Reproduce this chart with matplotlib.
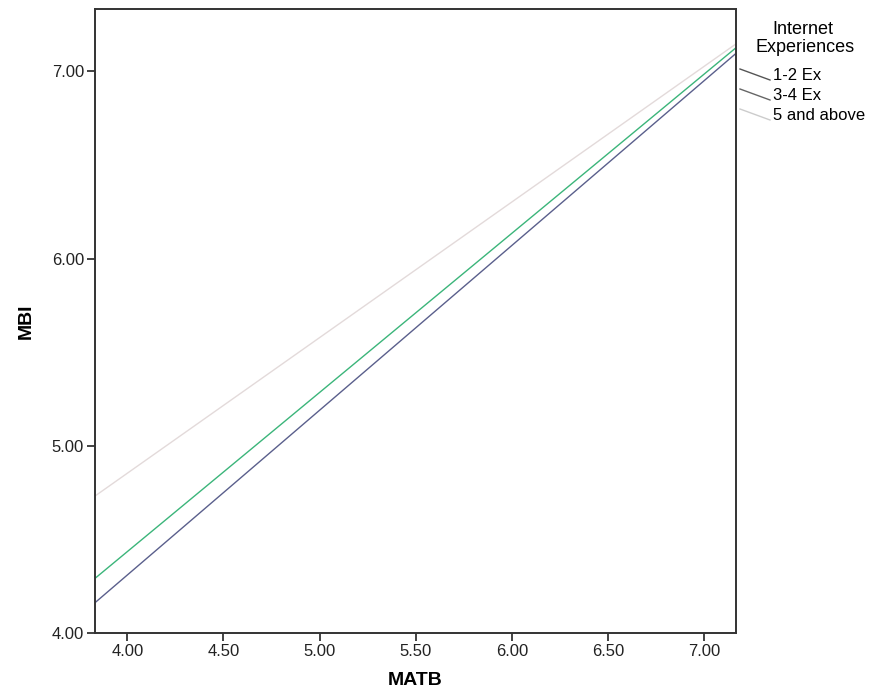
import matplotlib
matplotlib.use("Agg")
import matplotlib.pyplot as plt
from matplotlib.lines import Line2D
import numpy as np

plt.rcParams['font.family'] = ['Liberation Sans', 'DejaVu Sans']

# Fitted regression lines of MBI on MATB, by internet experience group
groups = ["1-2 Ex", "3-4 Ex", "5 and above"]
matb_range = [3.83, 7.17]
mbi_at_min = [4.16, 4.29, 4.73]
mbi_at_max = [7.10, 7.13, 7.15]
colors = ["#5a5f8c", "#3bb57a", "#e3dada"]
legend_sample_colors = ["#555555", "#666666", "#cccccc"]

x_ticks = [4.00, 4.50, 5.00, 5.50, 6.00, 6.50, 7.00]
y_ticks = [4.00, 5.00, 6.00, 7.00]

fig = plt.figure(figsize=(8.7, 6.93), dpi=100)
ax = fig.add_axes([0.1092, 0.0866, 0.737, 0.8997])

for lo, hi, c in zip(mbi_at_min, mbi_at_max, colors):
    ax.plot(matb_range, [lo, hi], color=c, lw=1.0, solid_capstyle="butt")

ax.set_xlim(3.832, 7.166)
ax.set_ylim(4.0, 7.33)
ax.set_xticks(x_ticks)
ax.set_xticklabels([f"{v:.2f}" for v in x_ticks])
ax.set_yticks(y_ticks)
ax.set_yticklabels([f"{v:.2f}" for v in y_ticks])
ax.tick_params(direction="out", length=6, width=1.2, labelsize=12,
               colors="#222222", pad=2)
for s in ax.spines.values():
    s.set_linewidth(1.4)
    s.set_color("#333333")

ax.set_xlabel("MATB", fontsize=14, fontweight="bold", labelpad=9)
ax.set_ylabel("MBI", fontsize=14, fontweight="bold", labelpad=12)

# Legend block to the right of the plot
fig.text(803 / 870, 1 - 30 / 693, "Internet", ha="center", va="center", fontsize=13)
fig.text(805 / 870, 1 - 47 / 693, "Experiences", ha="center", va="center", fontsize=13)
label_y = [76, 96, 116]
for name, y, c in zip(groups, label_y, legend_sample_colors):
    fig.add_artist(Line2D([740 / 870, 770 / 870],
                          [1 - (y - 7) / 693, 1 - (y + 4) / 693],
                          transform=fig.transFigure, color=c, lw=1.0))
    fig.text(773 / 870, 1 - y / 693, name, ha="left", va="center", fontsize=12)

fig.savefig("out.png", dpi=100)
